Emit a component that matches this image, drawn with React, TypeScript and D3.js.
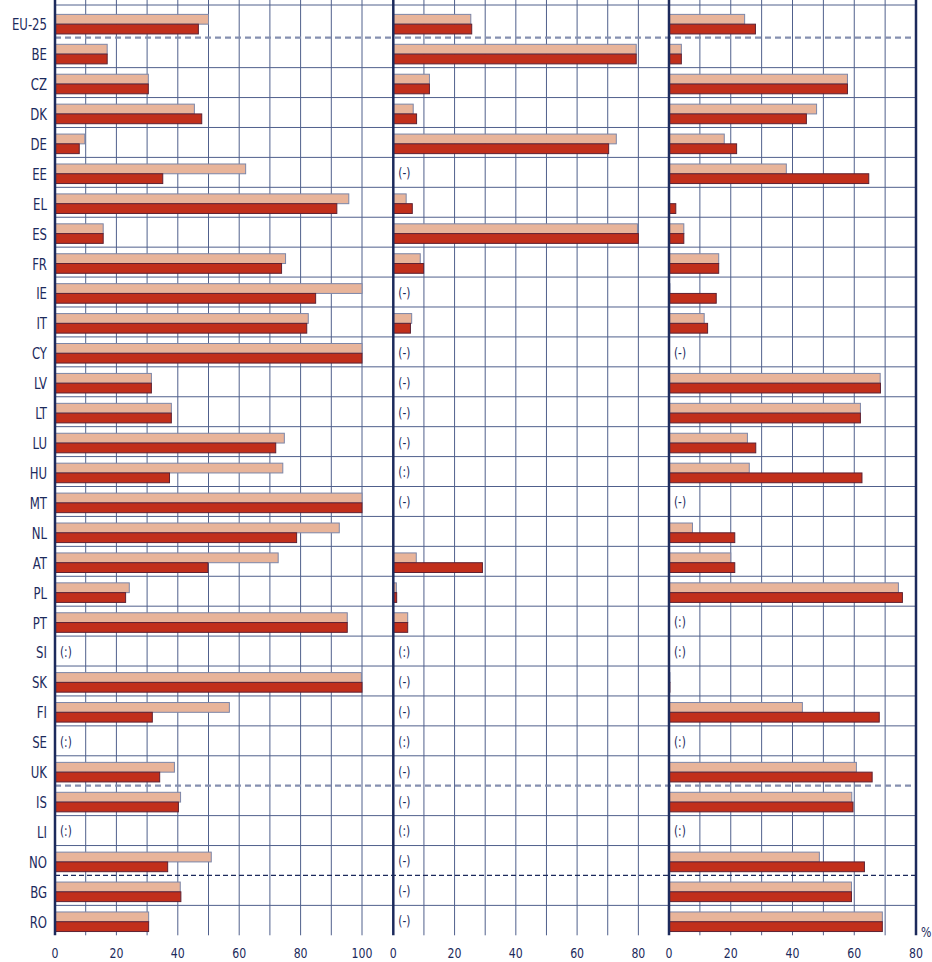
import React from "react";
import * as d3 from "d3";

const countries = ["EU-25","BE","CZ","DK","DE","EE","EL","ES","FR","IE","IT","CY","LV","LT","LU","HU","MT","NL","AT","PL","PT","SI","SK","FI","SE","UK","IS","LI","NO","BG","RO"];

const p1Light = [50,17,30.4,45.4,9.7,62.1,95.7,15.7,75.1,100,82.5,100,31.4,37.9,74.7,74.2,100,92.6,72.7,24.2,95.2,null,99.8,56.8,null,38.9,40.9,null,50.9,40.8,30.5];
const p1Dark = [46.7,17,30.4,47.8,7.9,35.1,91.8,15.7,73.8,84.9,82.0,100,31.4,37.9,71.9,37.3,100,78.7,49.8,23.0,95.2,null,100,31.7,null,34.1,40.2,null,36.7,41.0,30.5];
const p1Notes = ["","","","","","","","","","","","","","","","","","","","","","(:)","","","(:)","","","(:)","","",""];

const p2Light = [25.3,79.3,11.8,6.5,72.8,null,4.2,79.7,8.8,null,6.0,null,null,null,null,null,null,null,7.5,1.0,4.7,null,null,null,null,null,null,null,null,null,null];
const p2Dark = [25.6,79.3,11.8,7.6,70.3,null,6.2,80.0,9.9,null,5.6,null,null,null,null,null,null,null,29.1,1.1,4.7,null,null,null,null,null,null,null,null,null,null];
const p2Notes = ["","","","","","(-)","","","","(-)","","(-)","(-)","(-)","(-)","(:)","(-)","","","","","(:)","(-)","(-)","(:)","(-)","(-)","(:)","(-)","(-)","(-)"];

const p3Light = [24.5,4.0,57.8,47.8,17.9,38.0,0,4.8,16.1,0.3,11.4,null,68.4,62.0,25.4,26.0,null,7.6,20.0,74.3,null,null,0.3,43.2,null,60.7,59.2,null,48.7,59.1,69.1];
const p3Dark = [28.0,4.0,57.8,44.5,21.9,64.7,2.2,4.8,16.1,15.3,12.5,null,68.5,62.0,28.1,62.5,null,21.3,21.3,75.6,null,null,0.3,68.1,null,65.8,59.6,null,63.3,59.1,69.1];
const p3Notes = ["","","","","","","","","","","","(-)","","","","","(-)","","","","(:)","(:)","","","(:)","","","(:)","","",""];

const p1Ticks = [0,20,40,60,80,100];
const p2Ticks = [0,20,40,60,80];
const p3Ticks = [0,20,40,60,80];

const dashedGrey = ["EU-25","UK"];
const dashedDark = ["NO"];

const FONT = "'Liberation Sans Narrow', 'DejaVu Sans Condensed', 'DejaVu Sans', sans-serif";
const NAVY = "#1c2a5c";
const GRID = "#50608c";
const LIGHT = "#e8b49a";
const LIGHT_STROKE = "#7c86a8";
const DARK = "#c12f1b";
const DARK_STROKE = "#5e2233";
const SX = 0.84;

function T({ x, y, anchor, size, children }: { x: number; y: number; anchor?: string; size: number; children: any }) {
  return (
    <text transform={`translate(${x},${y}) scale(${SX},1)`} textAnchor={anchor || "start"} dominantBaseline="central"
      fontFamily={FONT} fontSize={size} fill={NAVY}>{children}</text>
  );
}

export default function App() {
  const W = 932, H = 962;
  const yTop = 7.8, yBottom = 935.3;
  const y = d3.scaleBand<string>().domain(countries).range([yTop, yBottom]).padding(0);
  const bw = y.bandwidth();

  const panels = [
    { scale: d3.scaleLinear().domain([0, 110]).range([55, 392.7]), max: 110, ticks: p1Ticks, light: p1Light, dark: p1Dark, notes: p1Notes },
    { scale: d3.scaleLinear().domain([0, 90]).range([393.3, 669]), max: 90, ticks: p2Ticks, light: p2Light, dark: p2Dark, notes: p2Notes },
    { scale: d3.scaleLinear().domain([0, 80]).range([669, 916]), max: 80, ticks: p3Ticks, light: p3Light, dark: p3Dark, notes: p3Notes },
  ];

  const xLeft = 55, xRight = 916;

  return (
    <svg width={W} height={H} style={{ display: "block", position: "absolute", left: 0, top: 0 }}>
      <rect x={0} y={0} width={W} height={H} fill="#ffffff" />
      {panels.map((p, pi) =>
        d3.range(10, p.max, 10).map((v) => (
          <line key={`vg${pi}-${v}`} x1={p.scale(v)} x2={p.scale(v)} y1={0} y2={yBottom} stroke={GRID} strokeWidth={1} />
        ))
      )}
      <line x1={xLeft} x2={xRight} y1={5} y2={5} stroke={GRID} strokeWidth={1} />
      {countries.map((c, i) => {
        if (i === countries.length - 1) return null;
        if (dashedGrey.includes(c) || dashedDark.includes(c)) return null;
        const yy = (y(c) as number) + bw;
        return <line key={`hg${c}`} x1={xLeft} x2={xRight} y1={yy} y2={yy} stroke={GRID} strokeWidth={1} />;
      })}
      {dashedGrey.map((c) => {
        const yy = (y(c) as number) + bw;
        return <line key={`dg${c}`} x1={xLeft} x2={xRight} y1={yy} y2={yy} stroke="#8590b0" strokeWidth={2.2} strokeDasharray="6,4" />;
      })}
      {dashedDark.map((c) => {
        const yy = (y(c) as number) + bw;
        return <line key={`dd${c}`} x1={xLeft} x2={xRight} y1={yy} y2={yy} stroke={NAVY} strokeWidth={1.2} strokeDasharray="5,3" />;
      })}
      {panels.map((p, pi) =>
        countries.map((c, i) => {
          const top = y(c) as number;
          const lv = p.light[i];
          const dv = p.dark[i];
          const out: any[] = [];
          if (lv != null && lv > 0) {
            out.push(
              <rect key={`l${pi}-${i}`} x={p.scale(0)} y={top + bw * 0.22} width={p.scale(lv) - p.scale(0)} height={bw * 0.327}
                fill={LIGHT} stroke={LIGHT_STROKE} strokeWidth={1} />
            );
          }
          if (dv != null && dv > 0) {
            out.push(
              <rect key={`d${pi}-${i}`} x={p.scale(0)} y={top + bw * 0.547} width={p.scale(dv) - p.scale(0)} height={bw * 0.327}
                fill={DARK} stroke={DARK_STROKE} strokeWidth={1} />
            );
          }
          const note = p.notes[i];
          if (note) {
            out.push(<T key={`n${pi}-${i}`} x={p.scale(0) + 5} y={top + bw / 2 + 1} size={14}>{note}</T>);
          }
          return out;
        })
      )}
      {panels.map((p, pi) => (
        <line key={`ax${pi}`} x1={p.scale(0)} x2={p.scale(0)} y1={0} y2={yBottom} stroke={NAVY} strokeWidth={2.5} />
      ))}
      <line x1={xRight} x2={xRight} y1={0} y2={yBottom} stroke={NAVY} strokeWidth={2.5} />
      {countries.map((c) => (
        <T key={`cl${c}`} x={47} y={(y(c) as number) + bw / 2 + 2} anchor="end" size={15.5}>{c}</T>
      ))}
      {panels.map((p, pi) =>
        p.ticks.map((t) => (
          <T key={`t${pi}-${t}`} x={p.scale(t)} y={953} anchor="middle" size={14.5}>{t}</T>
        ))
      )}
      <T x={921} y={932} size={14.5}>%</T>
    </svg>
  );
}
